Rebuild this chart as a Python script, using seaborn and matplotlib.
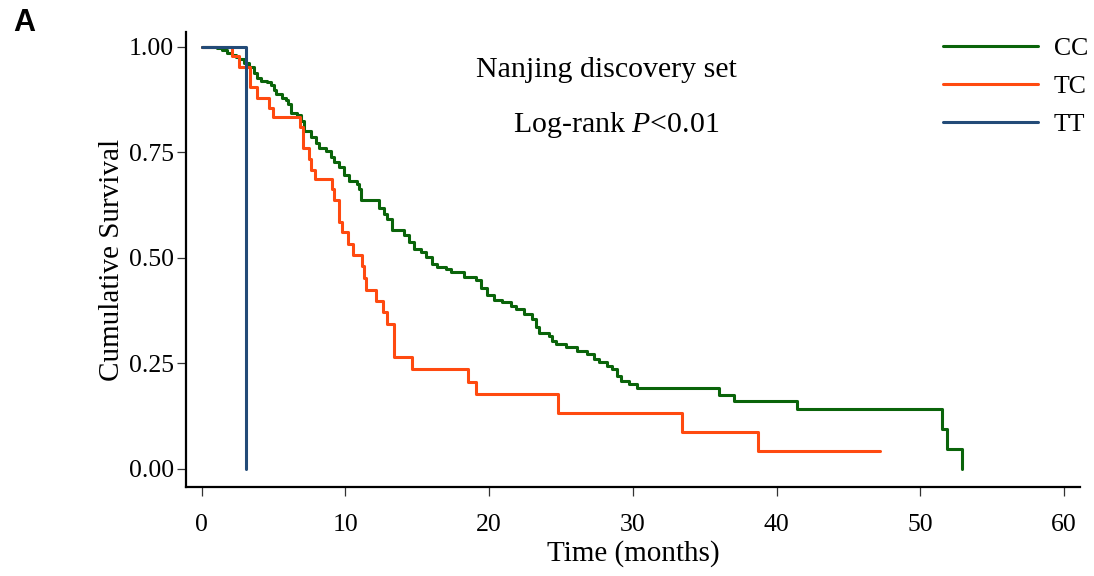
import numpy as np
import pandas as pd
import seaborn as sns
import matplotlib.pyplot as plt

# Kaplan-Meier step points (time in months, survival after the step)
cc_time = [0, 1.08, 1.43, 1.77, 2.12, 2.40, 2.61, 2.96, 3.31, 3.65, 3.86, 4.14, 4.56, 4.84,
           5.05, 5.19, 5.60, 5.88, 6.02, 6.23, 6.65, 6.92, 7.13, 7.62, 7.97, 8.18, 8.66,
           9.01, 9.22, 9.57, 9.92, 10.26, 10.82, 10.96, 11.10, 12.35, 12.70, 12.91, 13.26,
           14.09, 14.44, 14.79, 15.27, 15.62, 16.04, 16.39, 17.01, 17.36, 18.27, 19.10,
           19.45, 19.87, 20.35, 20.91, 21.54, 21.89, 22.44, 23.00, 23.28, 23.49, 24.18,
           24.39, 24.67, 25.37, 26.13, 26.83, 27.31, 27.66, 28.22, 28.57, 28.92, 29.19,
           29.75, 30.30, 36.01, 37.06, 41.44, 51.53, 51.88, 52.92]
cc_surv = [1.0, 0.998, 0.993, 0.986, 0.981, 0.976, 0.972, 0.962, 0.953, 0.939, 0.927, 0.920,
           0.917, 0.910, 0.898, 0.889, 0.879, 0.875, 0.865, 0.844, 0.839, 0.825, 0.801,
           0.787, 0.773, 0.761, 0.752, 0.740, 0.726, 0.714, 0.697, 0.681, 0.676, 0.662,
           0.636, 0.619, 0.603, 0.591, 0.567, 0.553, 0.537, 0.520, 0.513, 0.501, 0.485,
           0.478, 0.473, 0.466, 0.454, 0.447, 0.428, 0.411, 0.400, 0.395, 0.385, 0.378,
           0.366, 0.355, 0.336, 0.322, 0.314, 0.303, 0.296, 0.288, 0.279, 0.272, 0.260,
           0.253, 0.243, 0.236, 0.220, 0.208, 0.201, 0.191, 0.175, 0.161, 0.142, 0.095,
           0.047, 0.0]

tc_time = [0, 2.12, 2.61, 3.38, 3.86, 4.70, 4.98, 6.85, 7.06, 7.48, 7.62, 7.90, 9.08, 9.22,
           9.57, 9.78, 10.19, 10.54, 11.17, 11.31, 11.45, 12.14, 12.63, 12.91, 13.40, 14.65,
           18.55, 19.10, 24.80, 33.44, 38.73, 47.22]
tc_surv = [1.0, 0.979, 0.953, 0.905, 0.879, 0.856, 0.834, 0.809, 0.761, 0.735, 0.709, 0.686,
           0.662, 0.636, 0.584, 0.560, 0.532, 0.506, 0.480, 0.452, 0.423, 0.397, 0.371,
           0.343, 0.265, 0.236, 0.206, 0.177, 0.132, 0.087, 0.043, 0.043]

tt_time = [0, 3.10]
tt_surv = [1.0, 0.0]

groups = ['CC', 'TC', 'TT']
colors = ['#0a640a', '#ff4a10', '#234b78']

df = pd.concat([
    pd.DataFrame({'time': cc_time, 'surv': cc_surv, 'genotype': 'CC'}),
    pd.DataFrame({'time': tc_time, 'surv': tc_surv, 'genotype': 'TC'}),
    pd.DataFrame({'time': tt_time, 'surv': tt_surv, 'genotype': 'TT'}),
])

sns.set_style('ticks', {'text.color': 'black', 'axes.labelcolor': 'black',
                        'axes.edgecolor': 'black', 'xtick.color': 'black',
                        'ytick.color': 'black'})
plt.rcParams['font.family'] = ['Liberation Serif', 'DejaVu Serif']
plt.rcParams['mathtext.fontset'] = 'custom'
plt.rcParams['mathtext.rm'] = 'Liberation Serif'
plt.rcParams['mathtext.it'] = 'Liberation Serif:italic'

fig = plt.figure(figsize=(10.94, 5.76), dpi=100)
ax = fig.add_axes([186 / 1094, 1 - 487 / 576, (1080 - 186) / 1094, (487 - 32) / 576])

sns.lineplot(data=df, x='time', y='surv', hue='genotype', hue_order=groups,
             palette=dict(zip(groups, colors)), estimator=None, drawstyle='steps-post',
             linewidth=2.2, ax=ax)

ax.set_xlim(-1.08, 61.1)
ax.set_ylim(-0.043, 1.035)
ax.set_xticks(range(0, 61, 10))
ax.set_yticks([0, 0.25, 0.5, 0.75, 1.0])
ax.set_yticklabels(['0.00', '0.25', '0.50', '0.75', '1.00'])
sns.despine(ax=ax)
for s in ['left', 'bottom']:
    ax.spines[s].set_linewidth(1.6)
ax.tick_params(axis='both', labelsize=18.5, length=6.5, width=0.9,
               color='#333333', labelcolor='black')
ax.tick_params(axis='x', pad=13)
ax.tick_params(axis='y', pad=2)
ax.set_xlabel('Time (months)', fontsize=21, labelpad=3)
ax.set_ylabel('Cumulative Survival', fontsize=21, labelpad=3)

ax.text(28.15, 0.929, 'Nanjing discovery set', fontsize=21.5, ha='center', va='baseline')
ax.text(28.85, 0.797, 'Log-rank $P$<0.01', fontsize=21.5, ha='center', va='baseline')

sns.move_legend(ax, 'upper left', bbox_to_anchor=(0.847, 0.99), frameon=False, title=None,
                fontsize=18.5, handlelength=3.7, handletextpad=0.6, labelspacing=0.6,
                borderpad=0, borderaxespad=0)

fig.text(13 / 1094, 1 - 8 / 576, 'A', fontsize=22, fontweight='bold',
         family='Liberation Sans', ha='left', va='top', color='black')

fig.savefig('out.png', dpi=100)
